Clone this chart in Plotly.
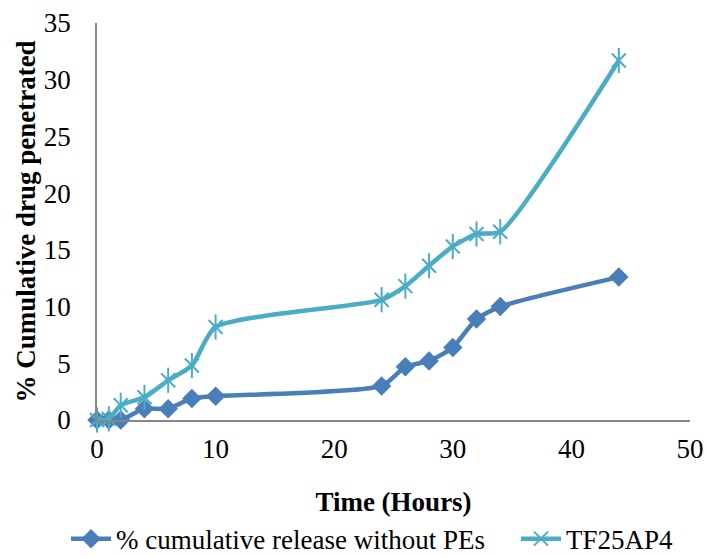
import plotly.graph_objects as go

time_hours = [0, 1, 2, 4, 6, 8, 10, 24, 26, 28, 30, 32, 34, 44]
release_without_pes = [0, 0, 0, 1.0, 1.0, 1.9, 2.1, 3.0, 4.7, 5.2, 6.4, 8.9, 10.0, 12.6]
tf25ap4 = [0, 0.1, 1.3, 2.0, 3.5, 4.8, 8.2, 10.6, 11.8, 13.6, 15.3, 16.4, 16.6, 31.7]

name1 = "% cumulative release without PEs"
name2 = "TF25AP4"
c1 = "#4A7EBB"
c2 = "#4BACC6"
font = "Liberation Serif"

fig = go.Figure()
fig.add_trace(go.Scatter(
    x=time_hours, y=release_without_pes, name=name1, mode="lines+markers",
    line=dict(color=c1, width=4.5, shape="spline", smoothing=0.6),
    marker=dict(symbol="diamond", size=15, color=c1), cliponaxis=False,
    legend="legend",
))
fig.add_trace(go.Scatter(
    x=time_hours, y=tf25ap4, name=name2, mode="lines+markers",
    line=dict(color=c2, width=4.5, shape="spline", smoothing=0.6),
    marker=dict(symbol="x-thin-open", size=14, color=c2, line=dict(color=c2, width=2)),
    cliponaxis=False, legend="legend2",
))
fig.add_trace(go.Scatter(
    x=time_hours, y=tf25ap4, name=name2, mode="markers", showlegend=False,
    marker=dict(symbol="line-ns-open", size=18, color=c2, line=dict(color=c2, width=2)),
    hoverinfo="skip", cliponaxis=False,
))

plot_left, plot_right = 97, 690
pw = plot_right - plot_left

fig.update_layout(
    width=707, height=557,
    margin=dict(l=97, r=17, t=23, b=137, autoexpand=False),
    paper_bgcolor="white", plot_bgcolor="white",
    font=dict(family=font, size=27, color="black"),
    showlegend=True,
    legend=dict(orientation="h", x=(66 - plot_left) / pw, xanchor="left", y=-0.30, yanchor="middle",
                font=dict(size=27), itemwidth=40),
    legend2=dict(orientation="h", x=(516 - plot_left) / pw, xanchor="left", y=-0.30, yanchor="middle",
                 font=dict(size=27), itemwidth=40),
)
fig.update_xaxes(
    range=[0, 50], dtick=10, showgrid=False, zeroline=False, automargin=False,
    showline=True, linecolor="#868686", linewidth=1.5,
    ticks="", ticklabelstandoff=4,
    title=dict(text="<b>Time (Hours)</b>", font=dict(size=27), standoff=29),
)
fig.update_yaxes(
    range=[0, 35], dtick=5, showgrid=False, zeroline=False, automargin=False,
    showline=True, linecolor="#868686", linewidth=1.5,
    ticks="", ticklabelstandoff=19,
    title=dict(text="<b>% Cumulative drug penetrated</b>", font=dict(size=27), standoff=0),
)

fig.write_html(
    "out.html",
    config={"displayModeBar": False},
    post_script="document.body.style.margin='0';document.body.style.overflow='hidden';",
)
